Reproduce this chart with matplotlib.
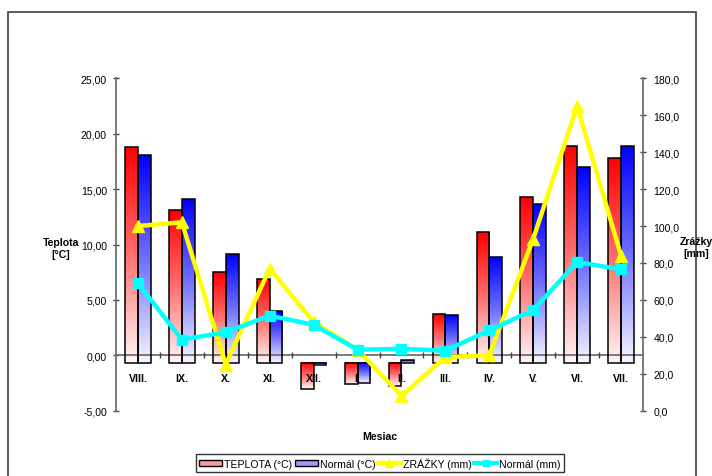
import numpy as np
import matplotlib
matplotlib.use("Agg")
import matplotlib.pyplot as plt
from matplotlib.colors import LinearSegmentedColormap
from matplotlib.patches import Rectangle, Patch
from matplotlib.lines import Line2D
from matplotlib.ticker import FuncFormatter, FixedLocator

plt.rcParams['font.family'] = ['Liberation Sans', 'DejaVu Sans']

months = ['VIII.', 'IX.', 'X.', 'XI.', 'XII.', 'I.', 'II.', 'III.', 'IV.', 'V.', 'VI.', 'VII.']
teplota = [18.8, 13.1, 7.5, 6.9, -3.0, -2.6, -2.8, 3.7, 11.1, 14.3, 18.9, 17.8]
normal_t = [18.1, 14.1, 9.1, 4.0, -0.9, -2.5, -0.4, 3.6, 8.9, 13.7, 17.0, 18.9]
zrazky = [100, 102, 25, 77, 48, 33, 8, 29, 30, 93, 165, 84]
normal_mm = [69, 38.5, 42.5, 51.5, 46.5, 33, 33.5, 32.5, 43.5, 54.5, 80.5, 76.5]

left_ticks = [-5, 0, 5, 10, 15, 20, 25]
right_ticks = [0, 20, 40, 60, 80, 100, 120, 140, 160, 180]

FS = 7.6
W, H = 712, 477
fig = plt.figure(figsize=(W / 100, H / 100), dpi=100)
ax = fig.add_axes([116 / W, 1 - 411.7 / H, (643 - 116) / W, (411.7 - 79.3) / H])
ax2 = ax.twinx()

base = -0.65
bw = 0.29
red_cmap = LinearSegmentedColormap.from_list('rg', ['#FFF6F6', '#FF7070', '#FF0000'])
blue_cmap = LinearSegmentedColormap.from_list('bg', ['#F6F6FF', '#7070FF', '#0000FF'])
grad = np.linspace(0, 1, 256).reshape(-1, 1)

x = np.arange(len(months))
for vals, off, cmap in [(teplota, -bw / 2, red_cmap), (normal_t, bw / 2, blue_cmap)]:
    for xi, v in zip(x, vals):
        lo, hi = min(base, v), max(base, v)
        ax.imshow(grad, extent=[xi + off - bw / 2, xi + off + bw / 2, lo, hi],
                  origin='lower', aspect='auto', cmap=cmap, zorder=2, interpolation='bilinear')
    ax.bar(x + off, np.array(vals) - base, bottom=base, width=bw, fill=False,
           edgecolor='black', linewidth=1.1, zorder=3)

ax.set_xlim(-0.5, 11.5)
ax.set_ylim(-5, 25)
ax.set_aspect('auto')

ax2.plot(x, zrazky, color='#FFFF00', lw=3.2, marker='^', ms=8, zorder=4)
ax2.plot(x, normal_mm, color='#00FFFF', lw=3.2, marker='s', ms=7, zorder=5)
ax2.set_ylim(0, 180)

axis_col = '#707070'
for s in ['top', 'right']:
    ax.spines[s].set_visible(False)
ax.spines['left'].set_color(axis_col)
ax.spines['left'].set_linewidth(1.3)
ax.spines['bottom'].set_position(('data', 0))
ax.spines['bottom'].set_color(axis_col)
ax.spines['bottom'].set_linewidth(1.3)
for s in ['top', 'left', 'bottom']:
    ax2.spines[s].set_visible(False)
ax2.spines['right'].set_color(axis_col)
ax2.spines['right'].set_linewidth(1.3)

ax.set_yticks(left_ticks)
ax.yaxis.set_major_formatter(FuncFormatter(lambda v, p: f"{v:.2f}".replace('.', ',')))
ax.tick_params(axis='y', direction='inout', length=5, width=1, color='#404040',
               labelsize=FS, pad=4)
ax2.set_yticks(right_ticks)
ax2.yaxis.set_major_formatter(FuncFormatter(lambda v, p: f"{v:.1f}".replace('.', ',')))
ax2.tick_params(axis='y', direction='inout', length=5, width=1, color='#404040',
                labelsize=FS, pad=5)

ax.set_xticks(x)
ax.set_xticklabels(months, fontweight='bold', fontsize=FS)
ax.tick_params(axis='x', which='major', length=0, pad=12.5)
ax.xaxis.set_minor_locator(FixedLocator(np.arange(0.5, 11, 1)))
ax.tick_params(axis='x', which='minor', direction='inout', length=4, width=1, color='#404040')
ax.xaxis.set_zorder(6)

fig.text(61 / W, 1 - 249 / H, 'Teplota\n[°C]', ha='center', va='center',
         fontsize=FS, fontweight='bold', linespacing=1.2)
fig.text(696 / W, 1 - 248 / H, 'Zrážky\n[mm]', ha='center', va='center',
         fontsize=FS, fontweight='bold', linespacing=1.2)
fig.text(380 / W, 1 - 437 / H, 'Mesiac', ha='center', va='center',
         fontsize=FS, fontweight='bold')

fig.add_artist(Rectangle((8 / W, -0.05), (696 - 8) / W, 1 - 13 / H + 0.05,
                         transform=fig.transFigure, fill=False,
                         edgecolor='#404040', linewidth=1.2))

handles = [Patch(facecolor='#FF9A9A', edgecolor='black', linewidth=1),
           Patch(facecolor='#9A9AFF', edgecolor='black', linewidth=1),
           Line2D([], [], color='#FFFF00', lw=3, marker='^', ms=6),
           Line2D([], [], color='#00FFFF', lw=3, marker='s', ms=5)]
labels = ['TEPLOTA (°C)', 'Normál (°C)', 'ZRÁŽKY (mm)', 'Normál (mm)']
leg = fig.legend(handles, labels, loc='center', bbox_to_anchor=(380 / W, 1 - 464 / H),
                 ncol=4, fontsize=FS, frameon=True, fancybox=False, shadow=False,
                 handlelength=2.2, handleheight=0.6, handletextpad=0.2,
                 columnspacing=0.2, borderpad=0.3, borderaxespad=0)
leg.get_frame().set_edgecolor('black')
leg.get_frame().set_linewidth(1)

fig.savefig('out.png', dpi=100)
